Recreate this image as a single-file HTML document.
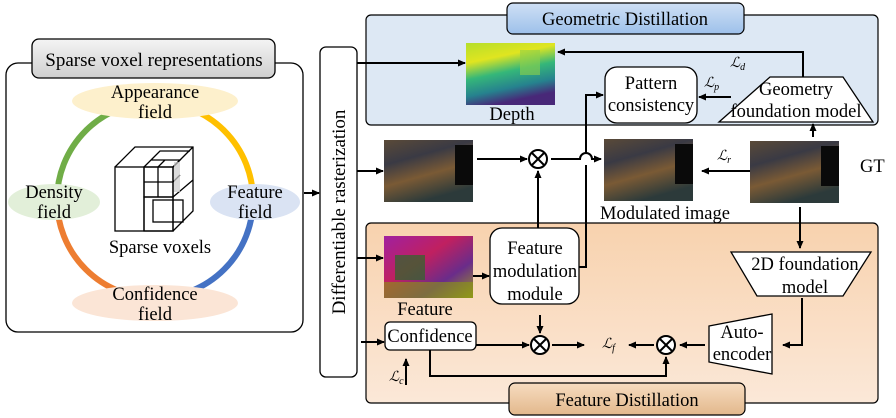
<!DOCTYPE html>
<html><head><meta charset="utf-8"><style>
body{margin:0;background:#fff}
svg{display:block;font-family:"Liberation Serif",serif}
</style></head><body>
<svg width="896" height="418" viewBox="0 0 896 418" xmlns="http://www.w3.org/2000/svg">
<defs>
<marker id="a" markerWidth="8" markerHeight="8" refX="7" refY="4" orient="auto" markerUnits="userSpaceOnUse"><path d="M0,0.5 L8,4 L0,7.5 Z" fill="#000"/></marker>
<linearGradient id="gt" x1="0" y1="0" x2="0" y2="1"><stop offset="0" stop-color="#f4f4f4"/><stop offset="1" stop-color="#cfcfcf"/></linearGradient>
<linearGradient id="bt" x1="0" y1="0" x2="0" y2="1"><stop offset="0" stop-color="#cfe0f5"/><stop offset="1" stop-color="#9dc0ea"/></linearGradient>
<linearGradient id="ot" x1="0" y1="0" x2="0" y2="1"><stop offset="0" stop-color="#f7dcc0"/><stop offset="1" stop-color="#e2b88c"/></linearGradient>
<linearGradient id="fb" x1="0" y1="0" x2="0" y2="1"><stop offset="0" stop-color="#f8d2ae"/><stop offset="1" stop-color="#fbe8d8"/></linearGradient>
<linearGradient id="dep" x1="0" y1="0" x2="0.3" y2="1"><stop offset="0" stop-color="#b5de2b"/><stop offset="0.3" stop-color="#e0e520"/><stop offset="0.55" stop-color="#35b779"/><stop offset="0.8" stop-color="#26828e"/><stop offset="1" stop-color="#482878"/></linearGradient>
<linearGradient id="room" x1="0" y1="0" x2="0.4" y2="1"><stop offset="0" stop-color="#5a4a38"/><stop offset="0.35" stop-color="#3a3a44"/><stop offset="0.65" stop-color="#7a5a35"/><stop offset="1" stop-color="#2c3a3a"/></linearGradient>
<linearGradient id="feat" x1="0" y1="0" x2="1" y2="1"><stop offset="0" stop-color="#a020a0"/><stop offset="0.4" stop-color="#c02060"/><stop offset="0.7" stop-color="#6a2c8a"/><stop offset="1" stop-color="#9a9a20"/></linearGradient>
</defs>

<rect x="6" y="63" width="297" height="269" rx="12" fill="#fff" stroke="#000" stroke-width="1.3"/>
<rect x="32" y="39" width="243" height="39" rx="7" fill="url(#gt)" stroke="#000" stroke-width="1.3"/>
<text x="154" y="66" font-size="19" text-anchor="middle">Sparse voxel representations</text>

<g fill="none" stroke-width="6">
<path d="M57,200 A98,98 0 0 1 155,102" stroke="#70ad47"/>
<path d="M155,102 A98,98 0 0 1 253,200" stroke="#ffc000"/>
<path d="M253,200 A98,98 0 0 1 155,298" stroke="#4472c4"/>
<path d="M155,298 A98,98 0 0 1 57,200" stroke="#ed7d31"/>
</g>
<ellipse cx="155" cy="101" rx="83" ry="18" fill="#fdf0cc"/>
<ellipse cx="54" cy="202" rx="46" ry="18" fill="#e2efd9"/>
<ellipse cx="255" cy="202" rx="45" ry="18" fill="#dae3f3"/>
<ellipse cx="155" cy="303" rx="83" ry="18" fill="#fbe5d6"/>
<g font-size="18.5" text-anchor="middle">
<text x="155" y="98">Appearance</text><text x="155" y="118">field</text>
<text x="54" y="198">Density</text><text x="54" y="218">field</text>
<text x="255" y="198">Feature</text><text x="255" y="218">field</text>
<text x="155" y="300">Confidence</text><text x="155" y="320">field</text>
<text x="160" y="253">Sparse voxels</text>
</g>
<g fill="none" stroke="#000" stroke-width="1.3">
<rect x="115" y="167" width="58" height="64" fill="#fff"/>
<path d="M115,167 L135,147 L193,147 L193,211 L173,231 M173,167 L193,147"/>
<rect x="144" y="167" width="29" height="30"/>
<line x1="144" y1="182" x2="173" y2="182"/><line x1="158" y1="167" x2="158" y2="197"/>
<path d="M144,167 L151,160 L180,160 L173,167 M158,167 L165,160 M151,160 L160,151 L190,151"/>
<path d="M173,182 L180,175 M173,197 L193,180"/>
<rect x="144" y="197" width="29" height="34"/>
<rect x="153" y="200" width="30" height="22"/>
<path d="M144,167 L144,231"/>
</g>
<rect x="174" y="162" width="6" height="30" fill="#ccc" opacity="0.7"/>

<line x1="304" y1="193" x2="319" y2="193" stroke="#000" stroke-width="2" marker-end="url(#a)"/>

<rect x="320" y="47" width="37" height="330" rx="6" fill="#fff" stroke="#000" stroke-width="1.3"/>
<text transform="translate(345,212) rotate(-90)" font-size="19" text-anchor="middle">Differentiable rasterization</text>

<rect x="366" y="15" width="512" height="110" rx="5" fill="#dde8f4" stroke="#000" stroke-width="1.2"/>
<rect x="507" y="3" width="237" height="31" rx="6" fill="url(#bt)" stroke="#000" stroke-width="1.2"/>
<text x="625" y="25" font-size="18.5" text-anchor="middle">Geometric Distillation</text>
<rect x="466" y="43" width="89" height="62" fill="url(#dep)"/>
<rect x="520" y="50" width="20" height="25" fill="#8fd14a" opacity="0.6"/>
<text x="512" y="120" font-size="18.5" text-anchor="middle">Depth</text>
<rect x="605" y="67" width="92" height="56" rx="12" fill="#fff" stroke="#000" stroke-width="1.3"/>
<text x="651" y="89" font-size="18.5" text-anchor="middle">Pattern</text>
<text x="651" y="111" font-size="18.5" text-anchor="middle">consistency</text>
<path d="M770,77 L843,77 L873,122 L719,122 Z" fill="#fff" stroke="#000" stroke-width="1.3"/>
<text x="796" y="95" font-size="18.5" text-anchor="middle">Geometry</text>
<text x="796" y="117" font-size="18.5" text-anchor="middle">foundation model</text>
<path d="M803,77 L803,52 L558,52" fill="none" stroke="#000" stroke-width="2" marker-end="url(#a)"/>
<text x="730" y="67" font-size="14" font-style="italic">ℒ<tspan font-size="10" dy="3">d</tspan></text>
<line x1="731" y1="97" x2="699" y2="97" stroke="#000" stroke-width="2" marker-end="url(#a)"/>
<text x="704" y="87" font-size="14" font-style="italic">ℒ<tspan font-size="10" dy="3">p</tspan></text>
<line x1="357" y1="63" x2="465" y2="63" stroke="#000" stroke-width="2" marker-end="url(#a)"/>

<rect x="366" y="223" width="512" height="180" rx="5" fill="url(#fb)" stroke="#000" stroke-width="1.2"/>
<rect x="509" y="383" width="236" height="32" rx="6" fill="url(#ot)" stroke="#000" stroke-width="1.2"/>
<text x="627" y="406" font-size="18.5" text-anchor="middle">Feature Distillation</text>

<line x1="357" y1="171" x2="383" y2="171" stroke="#000" stroke-width="2" marker-end="url(#a)"/>
<rect x="384" y="140" width="89" height="62" fill="url(#room)"/>
<rect x="604" y="139" width="89" height="62" fill="url(#room)"/>
<rect x="750" y="141" width="89" height="62" fill="url(#room)"/>
<rect x="455" y="145" width="18" height="40" fill="#0a0a0a"/><rect x="675" y="144" width="18" height="40" fill="#0a0a0a"/><rect x="821" y="146" width="18" height="40" fill="#0a0a0a"/>
<line x1="477" y1="159" x2="527" y2="159" stroke="#000" stroke-width="2" marker-end="url(#a)"/>
<path d="M551,159 L580,159 A6,6 0 0 1 592,159 L601,159" fill="none" stroke="#000" stroke-width="2" marker-end="url(#a)"/>
<text x="665" y="219" font-size="18.5" text-anchor="middle">Modulated image</text>
<text x="860" y="172" font-size="18.5">GT</text>
<line x1="750" y1="171" x2="702" y2="171" stroke="#000" stroke-width="2" marker-end="url(#a)"/>
<text x="717" y="160" font-size="14" font-style="italic">ℒ<tspan font-size="10" dy="3">r</tspan></text>
<line x1="813" y1="137" x2="813" y2="124" stroke="#000" stroke-width="2" marker-end="url(#a)"/>
<line x1="800" y1="207" x2="800" y2="248" stroke="#000" stroke-width="2" marker-end="url(#a)"/>

<line x1="357" y1="258" x2="383" y2="258" stroke="#000" stroke-width="2" marker-end="url(#a)"/>
<rect x="384" y="236" width="89" height="62" fill="url(#feat)"/>
<rect x="395" y="255" width="30" height="25" fill="#2a6a2a" opacity="0.7"/>
<rect x="384" y="282" width="89" height="16" fill="#8a9a10" opacity="0.6"/>
<text x="425" y="315" font-size="18.5" text-anchor="middle">Feature</text>
<line x1="473" y1="276" x2="489" y2="276" stroke="#000" stroke-width="2" marker-end="url(#a)"/>
<rect x="490" y="228" width="89" height="76" rx="12" fill="#fff" stroke="#000" stroke-width="1.3"/>
<text x="535" y="254" font-size="18.5" text-anchor="middle">Feature</text>
<text x="535" y="277" font-size="18.5" text-anchor="middle">modulation</text>
<text x="535" y="300" font-size="18.5" text-anchor="middle">module</text>
<path d="M579,267 L586,267 L586,165 M586,153 L586,95 L603,95" fill="none" stroke="#000" stroke-width="2" marker-end="url(#a)"/>
<line x1="538" y1="228" x2="538" y2="171" stroke="#000" stroke-width="2" marker-end="url(#a)"/>
<circle cx="538" cy="159" r="9" fill="#fff" stroke="#000" stroke-width="2"/>
<path d="M532,153 L544,165 M544,153 L532,165" stroke="#000" stroke-width="2"/>

<path d="M731,252 L871,252 L843,296 L757,296 Z" fill="#fff" stroke="#000" stroke-width="1.3"/>
<text x="805" y="270" font-size="18.5" text-anchor="middle">2D foundation</text>
<text x="805" y="293" font-size="18.5" text-anchor="middle">model</text>
<path d="M802,298 L802,345 L783,345" fill="none" stroke="#000" stroke-width="2" marker-end="url(#a)"/>
<path d="M709,326 L772,314 L772,374 L709,362 Z" fill="#fff" stroke="#000" stroke-width="1.3"/>
<text x="742" y="338" font-size="18.5" text-anchor="middle">Auto-</text>
<text x="742" y="360" font-size="18.5" text-anchor="middle">encoder</text>
<line x1="705" y1="345" x2="680" y2="345" stroke="#000" stroke-width="2" marker-end="url(#a)"/>
<circle cx="666" cy="345" r="9" fill="#fff" stroke="#000" stroke-width="2"/>
<path d="M660,339 L672,351 M672,339 L660,351" stroke="#000" stroke-width="2"/>
<line x1="654" y1="345" x2="629" y2="345" stroke="#000" stroke-width="2" marker-end="url(#a)"/>
<text x="602" y="348" font-size="14" font-style="italic">ℒ<tspan font-size="10" dy="3">f</tspan></text>

<line x1="361" y1="342" x2="384" y2="342" stroke="#000" stroke-width="2" marker-end="url(#a)"/>
<rect x="385" y="322" width="91" height="28" rx="5" fill="#fff" stroke="#000" stroke-width="1.3"/>
<text x="430" y="342" font-size="18.5" text-anchor="middle">Confidence</text>
<line x1="476" y1="345" x2="529" y2="345" stroke="#000" stroke-width="2" marker-end="url(#a)"/>
<line x1="540" y1="315" x2="540" y2="333" stroke="#000" stroke-width="2" marker-end="url(#a)"/>
<circle cx="540" cy="345" r="9" fill="#fff" stroke="#000" stroke-width="2"/>
<path d="M534,339 L546,351 M546,339 L534,351" stroke="#000" stroke-width="2"/>
<line x1="552" y1="345" x2="584" y2="345" stroke="#000" stroke-width="2" marker-end="url(#a)"/>
<path d="M430,350 L430,376 L666,376 L666,357" fill="none" stroke="#000" stroke-width="2" marker-end="url(#a)"/>
<line x1="406" y1="385" x2="406" y2="359" stroke="#000" stroke-width="2" marker-end="url(#a)"/>
<text x="389" y="381" font-size="14" font-style="italic">ℒ<tspan font-size="10" dy="3">c</tspan></text>
</svg>
</body></html>
